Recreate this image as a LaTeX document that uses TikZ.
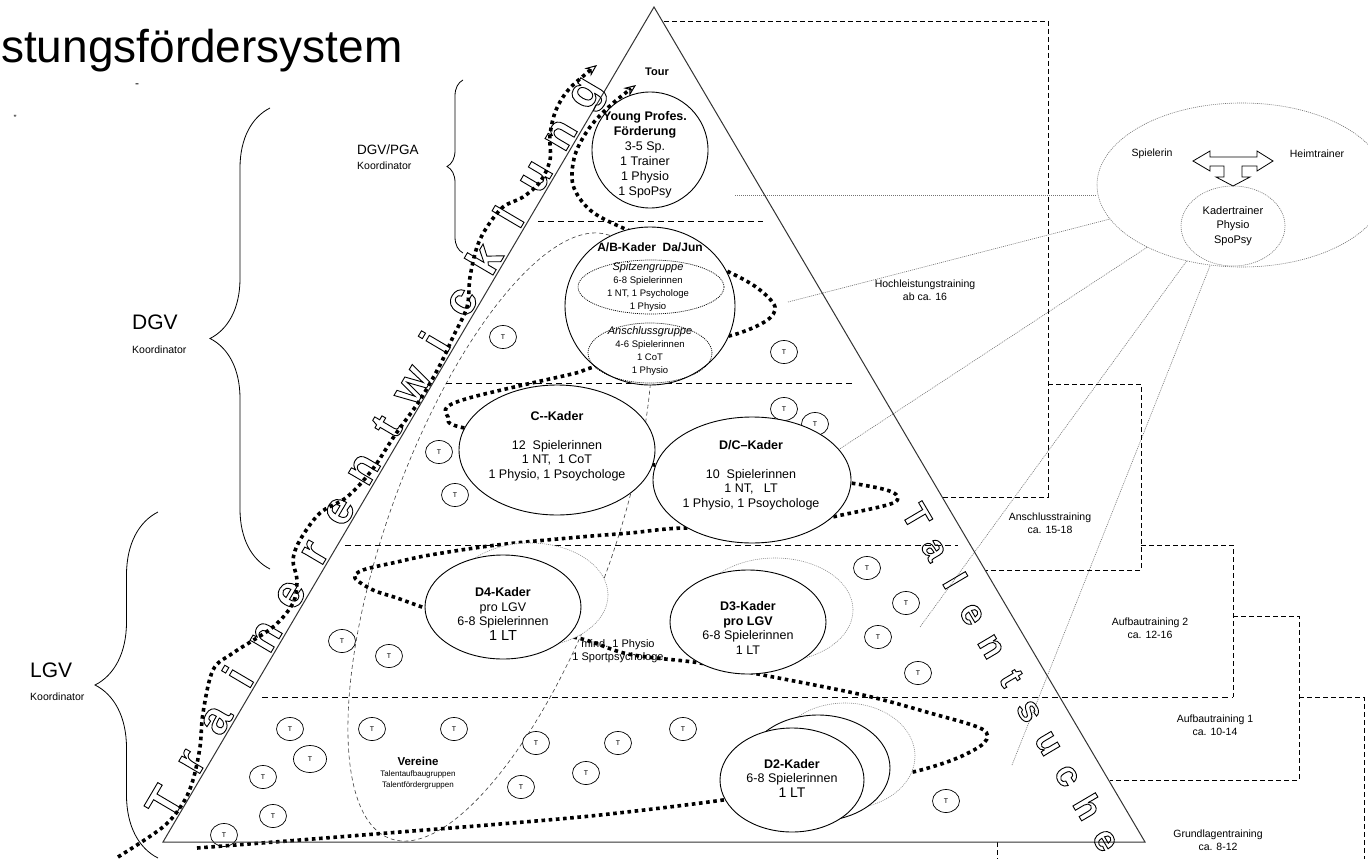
\documentclass[tikz,border=0pt]{standalone}
\usepackage{fontspec}
\setmainfont{Liberation Sans}
\usetikzlibrary{arrows.meta,decorations.pathreplacing,shapes.geometric}
\newcommand\fsz[2]{\fontsize{#1}{#2}\selectfont}
\newcommand\hol[1]{\special{pdf:literal direct 1 Tr 0.9 w}#1\special{pdf:literal direct 0 Tr}}
\begin{document}
\begin{tikzpicture}[x=1pt,y=-1pt,
  lvl/.style={line width=0.8pt, dash pattern=on 6pt off 4pt},
  stair/.style={line width=0.9pt, dash pattern=on 5pt off 3pt},
  gline/.style={draw=black!55, line width=0.6pt, dash pattern=on 1pt off 1pt},
  vdash/.style={draw=black!75, line width=0.6pt, dash pattern=on 4pt off 3pt},
  bigdot/.style={line width=3.6pt, dash pattern=on 3.6pt off 3.6pt},
  kader/.style={ellipse, draw, line width=0.9pt, fill=white, inner sep=0pt},
  ghost/.style={ellipse, draw=black!45, fill=white, line width=0.6pt, dash pattern=on 1pt off 1pt, inner sep=0pt},
  grp/.style={ellipse, draw, line width=0.7pt, dash pattern=on 1pt off 1pt, inner sep=0pt},
  tcirc/.style={ellipse, draw, line width=0.7pt, fill=white, inner sep=0pt, minimum width=27pt, minimum height=23pt, font=\fsz{7}{8}},
  txt/.style={align=center, inner sep=0pt},
  lab/.style={anchor=west, inner sep=0pt},
  brc/.style={decorate, line width=0.8pt},
  hollowlet/.style={inner sep=0pt, font=\fsz{46}{46}\bfseries},
  tipa/.style={-{Stealth[open,length=12pt,width=10pt,line width=1pt]}},
]
% canvas
\fill[white] (0,0) rectangle (1368,859);
\useasboundingbox (0,0) rectangle (1368,859);
\clip (0,0) rectangle (1368,859);

% right-hand group ellipse
\node[ellipse, gline, minimum width=290pt, minimum height=164pt, inner sep=0pt] (bigell) at (1242,185) {};
\node[ellipse, gline, minimum width=104pt, minimum height=80pt, inner sep=0pt, align=center, font=\fsz{11}{14.5}] (kad) at (1233,226) {Kadertrainer\\Physio\\SpoPsy};
\node[txt, font=\fsz{10.5}{12}] (spl) at (1152,154) {Spielerin};
\node[txt, font=\fsz{10.5}{12}] (heim) at (1317,154) {Heimtrainer};
\draw[line width=0.8pt, fill=white] (1193,161) -- (1210,151) -- (1210,157) -- (1257,157) -- (1257,151) -- (1273,161) -- (1257,171) -- (1257,166) -- (1242,166) -- (1242,177) -- (1250,177) -- (1233,186) -- (1216,177) -- (1224,177) -- (1224,166) -- (1210,166) -- (1210,171) -- cycle;

% dashed Vereine region
\draw[vdash, rotate around={70:(500,537)}] (500,537) ellipse [x radius=321pt, y radius=112pt];

% grey connectors to the group ellipse
\coordinate (g0) at (735,195);
\coordinate (g1) at (788,302);
\coordinate (g2) at (835,452);
\coordinate (g3) at (920,627);
\coordinate (g4) at (1012,765);
\draw[gline] (g0) -- (bigell.west |- g0);
\foreach \g in {g1,g2,g3,g4} \draw[gline] (\g) -- (bigell);

% level lines
\draw[lvl] (538,221) -- (763,221);
\draw[lvl] (446,383) -- (853,383);
\draw[lvl] (345,545) -- (958,545);
\draw[lvl] (262,697) -- (1233,697);

% age-range steps
\draw[stair] (664,21) -- (1048,21) -- (1048,497) -- (943,497);
\draw[stair] (1048,384) -- (1141,384) -- (1141,570) -- (985,570);
\draw[stair] (1141,545) -- (1233,545) -- (1233,697);
\draw[stair] (1233,616) -- (1299,616) -- (1299,780) -- (1110,780);
\draw[stair] (1299,697) -- (1364,697) -- (1364,859);
\draw[stair] (997,842) -- (997,859);

% talent circles
\foreach \x/\y [count=\i] in {503/337,784/352,784/409,815/424,439/452,455/495,342/641,389/656,867/568,906/603,878/637,918/673,290/729,263/777,273/816,224/835,372/729,454/729,536/743,521/787,586/773,618/743,683/729,946/801}
  \node[tcirc] (tc\i) at (\x,\y) {T};
\node[tcirc, minimum width=33pt, minimum height=27pt] (tcbig) at (310,759) {T};

% career path (thick dotted)
\draw[bigdot, tipa] plot[smooth, tension=0.55] coordinates {(197,848) (300,840) (400,832) (500,824) (600,815) (723,800) (800,786) (880,776) (913,772) (955,759) (984,743) (982,729) (930,713) (863,695) (763,675) (700,663) (647,657) (620,652) (578,638) (520,630) (460,620) (422,607) (397,598) (373,590) (355,578) (363,570) (397,562) (430,555) (497,545) (580,537) (630,533) (684,528) (770,530) (837,516) (893,503) (892,492) (851,483) (750,468) (655,465) (560,445) (460,427) (448,417) (447,407) (469,398) (523,385) (576,373) (594,367) (680,345) (733,335) (766,321) (775,307) (760,290) (735,275) (680,250) (623,228) (590,210) (573,185) (575,155) (590,127) (612,104) (636,85)};

% trainer development path (thick dotted)
\draw[bigdot, tipa] plot[smooth, tension=0.55] coordinates {(118,857) (163,827) (183,803) (193,780) (200,747) (203,713) (213,670) (233,653) (273,627) (293,603) (297,580) (293,560) (300,540) (320,513) (347,497) (372,470) (395,435) (420,400) (440,365) (453,337) (467,307) (470,277) (477,247) (487,227) (503,207) (523,197) (540,182) (550,160) (550,135) (556,110) (570,88) (597,65)};

% ghost and back ellipses
\node[ghost, minimum width=156pt, minimum height=104pt] (d4b) at (530,595) {};
\node[ghost, minimum width=156pt, minimum height=104pt] (d3b) at (775,610) {};
\node[ghost, minimum width=140pt, minimum height=106pt] (d2b) at (845,756) {};
\node[kader, minimum width=144pt, minimum height=106pt] (d2m) at (818,768) {};

% squad ellipses
\node[kader, circle, minimum size=116pt] (young) at (650,150) {};
\node[kader, minimum width=170pt, minimum height=158pt] (ab) at (650,306) {};
\node[grp, minimum width=146pt, minimum height=54pt] (spitz) at (651,287) {};
\node[grp, minimum width=124pt, minimum height=60pt] (ansch) at (650,353) {};
\node[kader, minimum width=196pt, minimum height=130pt] (ck) at (557,450) {};
\node[kader, minimum width=198pt, minimum height=126pt] (dck) at (752,480) {};
\node[kader, minimum width=156pt, minimum height=104pt] (d4) at (503,607) {};
\node[kader, minimum width=156pt, minimum height=104pt] (d3) at (748,622) {};
\node[kader, minimum width=144pt, minimum height=104pt] (d2) at (792,780) {};

% texts in the pyramid
\node[txt, font=\fsz{11}{12}] (tour) at (657,72) {\textbf{Tour}};
\node[txt, font=\fsz{12.5}{15}] (youngt) at (645,155) {\textbf{Young Profes.}\\\textbf{Förderung}\\3-5 Sp.\\1 Trainer\\1 Physio\\1 SpoPsy};
\node[txt, font=\fsz{12}{13}] (abt) at (650,247) {\textbf{A/B-Kader\ \ Da/Jun}};
\node[txt, font=\fsz{9.5}{13.3}] (spitzt) at (648,287) {{\fsz{11}{13.3}\itshape Spitzengruppe}\\6-8 Spielerinnen\\1 NT, 1 Psychologe\\1 Physio};
\node[txt, font=\fsz{9.5}{13}] (anscht) at (650,351) {{\fsz{11}{13}\itshape Anschlussgruppe}\\4-6 Spielerinnen\\1 CoT\\1 Physio};
\node[txt, font=\fsz{12.5}{14.5}] (ckt) at (557,446) {\textbf{C-{}-Kader}\\[14.5pt]12\ \ Spielerinnen\\1 NT,\ \ 1 CoT\\1 Physio, 1 Psoychologe};
\node[txt, font=\fsz{12.5}{14.5}] (dckt) at (751,475) {\textbf{D/C--Kader}\\[14.5pt]10\ \ Spielerinnen\\1 NT,\ \ \ LT\\1 Physio, 1 Psoychologe};
\node[txt, font=\fsz{12.5}{14.5}] (d4t) at (503,614) {\textbf{D4-Kader}\\pro LGV\\6-8 Spielerinnen\\{\fsz{14.5}{15}1 LT}};
\node[txt, font=\fsz{12.5}{14.5}] (d3t) at (748,628) {\textbf{D3-Kader}\\\textbf{pro LGV}\\6-8 Spielerinnen\\1 LT};
\node[txt, font=\fsz{12.5}{14.5}] (d2t) at (792,778) {\textbf{D2-Kader}\\6-8 Spielerinnen\\{\fsz{14}{14.5}1 LT}};
\node[txt, font=\fsz{11}{13}] (mind) at (618,651) {mind. 1 Physio\\1 Sportpsychologe};
\node[txt, font=\fsz{8}{11}] (vert) at (418,773) {{\fsz{11.5}{11}\textbf{Vereine}}\\Talentaufbaugruppen\\Talentfördergruppen};

% pyramid outline
\draw[line width=1pt, black!80] (654,7) coordinate (apex) -- (1145,842) coordinate (br) -- (163,842) coordinate (bl) -- cycle;

% hollow lettering
\foreach \ch [count=\i from 0] in {T,r,a,i,n,e,r,e,n,t,w,i,c,k,l,u,n,g}{
  \pgfmathsetmacro\ss{35+\i*48.5}
  \node[hollowlet, rotate=59.5, anchor=base] (tr\i) at ({163+\ss*0.507-3*0.862},{842-\ss*0.862-3*0.507}) {\hol{\ch}};
}
\foreach \ch [count=\i from 0] in {T,a,l,e,n,t,s,u,c,h,e}{
  \pgfmathsetmacro\ss{572+\i*37.5}
  \node[hollowlet, font=\fsz{36}{36}\bfseries, rotate=-59.5, anchor=base] (ts\i) at ({654+\ss*0.507-44*0.862},{7+\ss*0.862+44*0.507}) {\hol{\ch}};
}

% training stage labels
\node[txt, font=\fsz{10.5}{13}] (hoch) at (925,290) {Hochleistungstraining\\ab ca. 16};
\node[txt, font=\fsz{10.5}{13}] (anst) at (1050,523) {Anschlusstraining\\ca. 15-18};
\node[txt, font=\fsz{10.5}{13}] (auf2) at (1150,628) {Aufbautraining 2\\ca. 12-16};
\node[txt, font=\fsz{10.5}{13}] (auf1) at (1215,725) {Aufbautraining 1\\ca. 10-14};
\node[txt, font=\fsz{10.5}{13}] (grund) at (1218,840) {Grundlagentraining\\ca. 8-12};

% braces and coordinators
\draw[brc, decoration={brace, amplitude=16pt, aspect=0.5}] (463,253) -- (463,80);
\draw[brc, decoration={brace, amplitude=60pt, aspect=0.5}] (270,569) -- (270,108);
\draw[brc, decoration={brace, amplitude=63pt, aspect=0.5}] (158,858) -- (158,512);
\node[lab, font=\fsz{13.5}{14}] (pga) at (357,150) {DGV/PGA};
\node[lab, font=\fsz{10.5}{12}] (pgak) at (357,166) {Koordinator};
\node[lab, font=\fsz{21}{22}] (dgv) at (132,322) {DGV};
\node[lab, font=\fsz{10.5}{12}] (dgvk) at (132,350) {Koordinator};
\node[lab, font=\fsz{21}{22}] (lgv) at (30,670) {LGV};
\node[lab, font=\fsz{10.5}{12}] (lgvk) at (30,697) {Koordinator};

% title and stray marks
\node[anchor=base west, inner sep=0pt, font=\fsz{46}{46}] (title) at (1,63) {stungsfördersystem};
\node[txt, font=\fsz{12}{12}] (m1) at (137,86) {-};
\node[txt, font=\fsz{9}{9}] (m2) at (15,118) {{"}};
\end{tikzpicture}
\end{document}
